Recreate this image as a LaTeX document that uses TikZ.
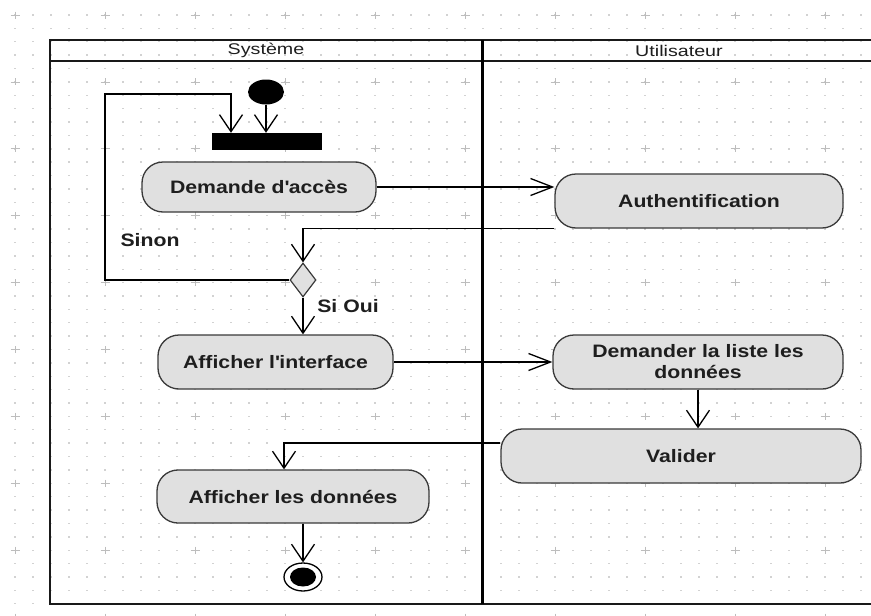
\documentclass[tikz,border=0pt]{standalone}
\usepackage{fontspec}
\setmainfont{Liberation Sans}
\newfontfamily\actfont[FakeStretch=1.18]{Liberation Sans}
\newfontfamily\headfont[FakeStretch=1.27]{Liberation Sans}
\usetikzlibrary{arrows.meta,shapes.geometric}
\definecolor{dotc}{HTML}{D2D2D2}
\definecolor{crossc}{HTML}{BDBDBD}
\definecolor{actfill}{HTML}{E0E0E0}
\definecolor{edgec}{HTML}{3A3A3A}
\definecolor{textc}{HTML}{1E1E1E}
\begin{document}
\begin{tikzpicture}[x=1pt,y=-1pt,
  action/.style={draw=edgec, fill=actfill, line width=1.3pt, rounded corners=21pt,
    inner sep=0pt, align=center, text=textc, font=\actfont\bfseries\fontsize{18pt}{21pt}\selectfont},
  lbl/.style={inner sep=0pt, text=textc, font=\actfont\bfseries\fontsize{18pt}{21pt}\selectfont},
  head/.style={inner sep=0pt, text=textc, font=\headfont\fontsize{15.5pt}{18pt}\selectfont},
  conn/.style={draw=black, line width=1.3pt},
  varr/.style={-{Straight Barb[length=17pt,width=23pt,line width=1.3pt]}},
  harr/.style={-{Straight Barb[length=22pt,width=17pt,line width=1.3pt]}},
  frame/.style={draw=black!90, line width=2.2pt}
]
\useasboundingbox (0,0) rectangle (871,616);
\fill[white] (0,0) rectangle (871,616);

% background dot grid with a cross every fifth dot
\foreach \i in {0,...,47}{
  \foreach \j in {0,...,45}{
    \fill[dotc] (15+18*\i-0.7, 15+13.38*\j-0.7) rectangle ++(1.4,1.4);
  }
}
\foreach \i in {0,...,9}{
  \foreach \j in {0,...,9}{
    \draw[crossc, line width=0.8pt] (15+90*\i-4.5, 15+66.9*\j) -- ++(9,0)
      (15+90*\i, 15+66.9*\j-3.5) -- ++(0,7);
  }
}

% swimlanes
\draw[frame] (50,40) rectangle (885,604);
\draw[frame] (50,61) -- (885,61);
\draw[draw=black, line width=3pt] (482,40) -- (482,604);
\node[head] (lane1) at (266,50.5) {Système};
\node[head] (lane2) at (679,50.5) {Utilisateur};

% control nodes
\node[ellipse, fill=black, minimum width=36pt, minimum height=25pt, inner sep=0pt] (init) at (266,92) {};
\node[fill=black, minimum width=110pt, minimum height=17pt, inner sep=0pt] (bar) at (267,141.5) {};
\node[diamond, draw=edgec, fill=actfill, line width=1.2pt, minimum width=26pt, minimum height=34pt, inner sep=0pt] (dec) at (303,280) {};
\node[ellipse, draw=black, fill=white, line width=1.3pt, minimum width=38pt, minimum height=28pt, inner sep=0pt] (fin) at (303,577) {};
\fill[black] (fin.center) ellipse [x radius=13, y radius=9.5];

% actions
\node[action, minimum width=234pt, minimum height=50pt] (dem) at (259,187) {Demande d\textquotesingle accès};
\node[action, minimum width=288pt, minimum height=54pt] (auth) at (699,201) {Authentification};
\node[action, minimum width=235pt, minimum height=54pt] (aff) at (275.5,362) {Afficher l\textquotesingle interface};
\node[action, minimum width=290pt, minimum height=54pt] (lst) at (698,362) {Demander la liste les\\données};
\node[action, minimum width=360pt, minimum height=54pt] (val) at (681,456) {Valider};
\node[action, minimum width=272pt, minimum height=53pt] (don) at (293,496.5) {Afficher les données};

% guards
\node[lbl] (sinon) at (150,240) {Sinon};
\node[lbl] (sioui) at (348,306) {Si Oui};

% flows
\coordinate (loopc) at (105,94);
\draw[conn,varr] (init.south) -- (init.south |- bar.north);
\draw[conn,varr] (dec.west) -| (loopc) -| ([xshift=-36pt]bar.north);
\draw[conn,harr] (dem.east) -- (dem.east -| auth.west);
\draw[conn,varr] (auth.south west) -| (dec.north);
\draw[conn,varr] (dec.south) -- (aff.north -| dec.south);
\draw[conn,harr] (aff.east) -- (lst.west);
\draw[conn,varr] (lst.south) -- (lst.south |- val.north);
\draw[conn,varr] ([yshift=13pt]val.west) -| ([xshift=-9pt]don.north);
\draw[conn,varr] (don.south -| fin.north) -- (fin.north);
\end{tikzpicture}
\end{document}
